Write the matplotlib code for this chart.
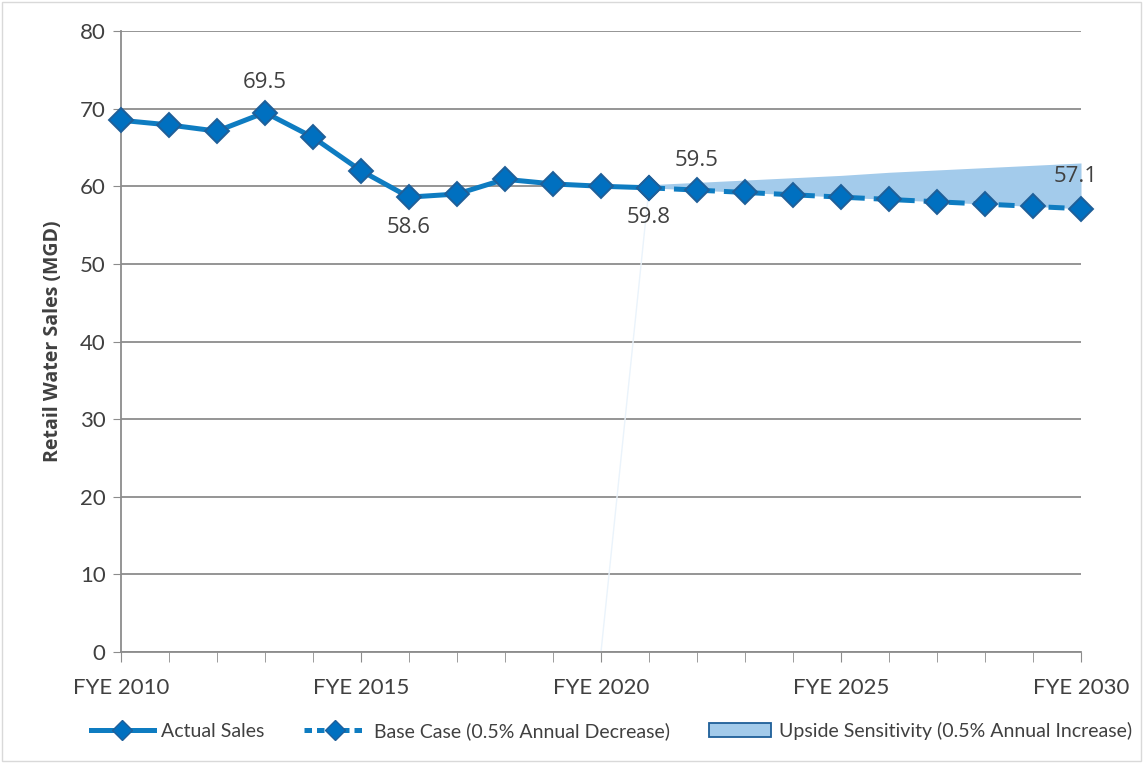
import matplotlib
matplotlib.use("Agg")
import matplotlib.pyplot as plt
from matplotlib.lines import Line2D
from matplotlib.patches import Patch, Rectangle

actual_years = [2010, 2011, 2012, 2013, 2014, 2015, 2016, 2017, 2018, 2019, 2020, 2021]
actual_sales = [68.5, 67.9, 67.1, 69.5, 66.3, 62.0, 58.6, 59.0, 60.9, 60.3, 60.0, 59.8]

base_years = [2021, 2022, 2023, 2024, 2025, 2026, 2027, 2028, 2029, 2030]
base_case = [59.8, 59.5, 59.2, 58.9, 58.6, 58.3, 58.0, 57.7, 57.4, 57.1]
upside = [60.2, 60.5, 60.8, 61.1, 61.4, 61.8, 62.1, 62.4, 62.7, 63.0]

ytick_vals = [0, 10, 20, 30, 40, 50, 60, 70, 80]
xtick_vals = [2010, 2015, 2020, 2025, 2030]
xtick_labels = ["FYE 2010", "FYE 2015", "FYE 2020", "FYE 2025", "FYE 2030"]

LINE = "#0E7CC1"
MFACE = "#0070C0"
MEDGE = "#1F5F99"
AREA = "#A3CBEB"
TXT = "#404040"
GRID = "#8C8C8C"
FONT = ["Lato", "DejaVu Sans"]
LABFONT = ["Open Sans", "DejaVu Sans"]
plt.rcParams['font.family'] = FONT

fig = plt.figure(figsize=(11.43, 7.63), dpi=100)
ax = fig.add_axes([121/1143, 1 - 652/763, (1081 - 121)/1143, (652 - 31)/763])

# upside area
ax.fill_between(base_years, base_case, upside, color=AREA, linewidth=0, zorder=1)
# faint artefact line of the area series
ax.plot([2020, 2021], [0, base_case[0]], color="#EAF3FB", linewidth=1.0, zorder=1)

mk = dict(marker="D", markersize=12, markerfacecolor=MFACE, markeredgecolor=MEDGE, markeredgewidth=1.4)
ax.plot(actual_years, actual_sales, color=LINE, linewidth=3.6, zorder=3, clip_on=False, **mk)
ax.plot(base_years, base_case, color=LINE, linewidth=3.6, linestyle=(0, (3.2, 1.8)), zorder=3,
        clip_on=False, **mk)

# data labels
lab_kw = dict(fontsize=16, color=TXT, ha="center", family=LABFONT)
ax.annotate("69.5", (2013, actual_sales[3]), xytext=(0, 14), textcoords="offset points", va="bottom", **lab_kw)
ax.annotate("58.6", (2016, actual_sales[6]), xytext=(0, -14), textcoords="offset points", va="top", **lab_kw)
ax.annotate("59.8", (2021, actual_sales[11]), xytext=(0, -14), textcoords="offset points", va="top", **lab_kw)
ax.annotate("59.5", (2022, base_case[1]), xytext=(0, 14), textcoords="offset points", va="bottom", **lab_kw)
ax.annotate("57.1", (2030, base_case[-1]), xytext=(-4, 16), textcoords="offset points", va="bottom", **lab_kw)

ax.set_xlim(2010, 2030)
ax.set_ylim(0, 80)
ax.set_yticks(ytick_vals)
ax.set_xticks(xtick_vals)
ax.set_xticklabels(xtick_labels)
ax.set_xticks(list(range(2010, 2031)), minor=True)
ax.yaxis.grid(True, color=GRID, linewidth=1.3)
ax.set_axisbelow(True)
for s in ["top", "right"]:
    ax.spines[s].set_visible(False)
for s in ["left", "bottom"]:
    ax.spines[s].set_color(GRID)
    ax.spines[s].set_linewidth(1.3)
ax.tick_params(axis="y", length=6, color=GRID, labelsize=16, labelcolor=TXT, pad=5)
ax.tick_params(axis="x", which="both", length=7, color=GRID, labelsize=16, labelcolor=TXT, pad=12, direction="out")
ax.set_ylabel("Retail Water Sales (MGD)", fontsize=14, fontweight="bold", color=TXT,
              family=LABFONT, labelpad=12)

handles = [
    Line2D([], [], color=LINE, linewidth=3.6, marker="D", markersize=10, markerfacecolor=MFACE, markeredgecolor=MEDGE),
    Line2D([], [], color=LINE, linewidth=3.6, linestyle=(0, (1.5, 1.0)), marker="D", markersize=10,
           markerfacecolor=MFACE, markeredgecolor=MEDGE),
    Patch(facecolor=AREA, edgecolor=MEDGE, linewidth=1.3),
]
labels = ["Actual Sales", "Base Case (0.5% Annual Decrease)", "Upside Sensitivity (0.5% Annual Increase)"]
leg = fig.legend(handles, labels, loc="center", bbox_to_anchor=(0.535, 1 - 731/763), ncol=3, frameon=False,
                 fontsize=14, handlelength=3.2, columnspacing=2.0, handletextpad=0.4)
for t in leg.get_texts():
    t.set_color(TXT)

fig.patches.append(Rectangle((0.002, 0.002), 0.996, 0.996, transform=fig.transFigure, fill=False,
                             edgecolor="#D9D9D9", linewidth=1))

fig.savefig("out.png", dpi=100)
